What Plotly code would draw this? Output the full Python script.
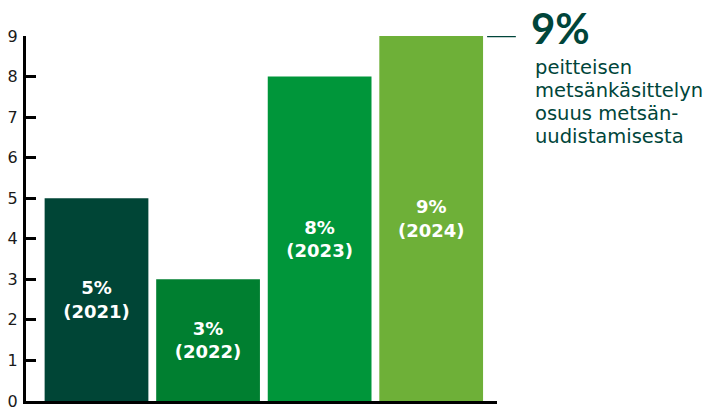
import plotly.graph_objects as go

years = ["2021", "2022", "2023", "2024"]
values = [5, 3, 8, 9]
colors = ["#004536", "#007f30", "#00963a", "#6eb038"]
labels = [f"{v}%<br>({y})" for v, y in zip(values, years)]
y_ticks = list(range(0, 10))
side_title = "9%"
side_lines = ["peitteisen", "metsänkäsittelyn", "osuus metsän-", "uudistamisesta"]

fig = go.Figure()
fig.add_trace(go.Bar(
    x=list(range(len(years))), y=values,
    marker=dict(color=colors, line=dict(width=0)),
    width=0.93,
    text=labels, textposition="inside", insidetextanchor="middle",
    textangle=0,
    textfont=dict(family="DejaVu Sans", size=18, color="white", weight="bold"),
    hoverinfo="skip",
))

fig.update_layout(
    width=708, height=407,
    margin=dict(l=26, r=211, t=36, b=6),
    plot_bgcolor="white", paper_bgcolor="white",
    showlegend=False,
    xaxis=dict(range=[-0.632, 3.59], showticklabels=False, ticks="",
               showgrid=False, zeroline=False, showline=True,
               linecolor="black", linewidth=3, automargin=False),
    yaxis=dict(range=[0, 9], tickvals=y_ticks, ticks="inside", ticklen=10,
               tickwidth=3, tickcolor="black", showgrid=False, zeroline=False,
               showline=True, linecolor="black", linewidth=3,
               ticklabeloverflow="allow", ticklabelstandoff=2, automargin=False,
               tickfont=dict(family="DejaVu Sans", size=16, color="#1a1a1a")),
    uniformtext=dict(minsize=8, mode="show"),
)

fig.add_shape(type="line", xref="paper", yref="y", x0=0.979, x1=1.040,
              y0=9, y1=9, line=dict(color="#00453a", width=2.5))
fig.add_annotation(xref="paper", yref="paper", x=1.069, y=1.0, xanchor="left",
                   yanchor="middle", yshift=8, showarrow=False,
                   text=f"<b>{side_title}</b>",
                   font=dict(family="Lato", size=42, color="#00453a"))
for i, line in enumerate(side_lines):
    fig.add_annotation(xref="paper", yref="paper", x=1.076, y=1.0,
                       xanchor="left", yanchor="middle", yshift=-(31 + 23 * i),
                       showarrow=False, align="left", text=line,
                       font=dict(family="DejaVu Sans", size=19.5, color="#00453a"))

fig.write_html("out.html")
